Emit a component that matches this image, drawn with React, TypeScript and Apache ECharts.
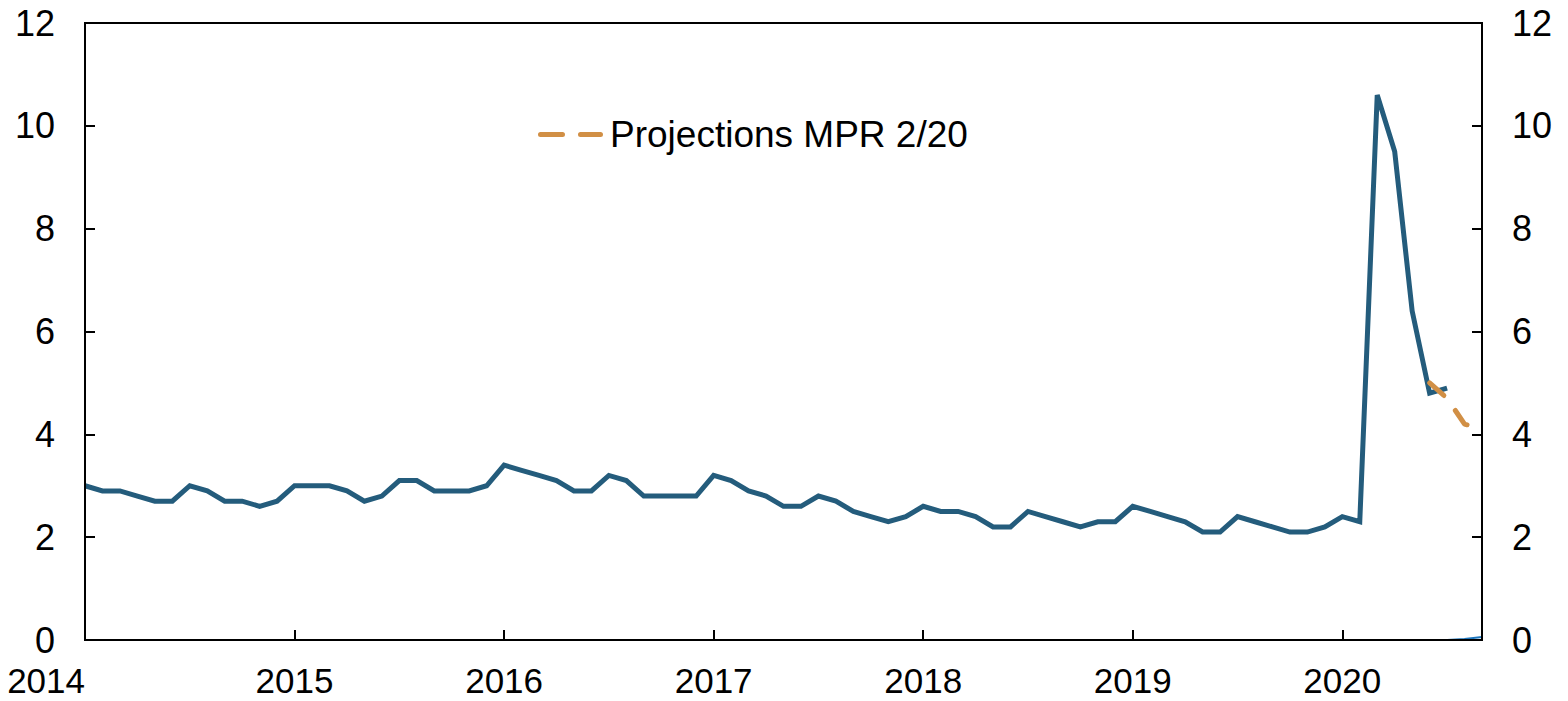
import React, { useEffect, useRef } from "react";
import * as echarts from "echarts";

// Monthly observations, Jan 2014 – Jul 2020
const actualStart = "2014-01";
const actualValues = [
  3.0, 2.9, 2.9, 2.8, 2.7, 2.7, 3.0, 2.9, 2.7, 2.7, 2.6, 2.7, // 2014
  3.0, 3.0, 3.0, 2.9, 2.7, 2.8, 3.1, 3.1, 2.9, 2.9, 2.9, 3.0, // 2015
  3.4, 3.3, 3.2, 3.1, 2.9, 2.9, 3.2, 3.1, 2.8, 2.8, 2.8, 2.8, // 2016
  3.2, 3.1, 2.9, 2.8, 2.6, 2.6, 2.8, 2.7, 2.5, 2.4, 2.3, 2.4, // 2017
  2.6, 2.5, 2.5, 2.4, 2.2, 2.2, 2.5, 2.4, 2.3, 2.2, 2.3, 2.3, // 2018
  2.6, 2.5, 2.4, 2.3, 2.1, 2.1, 2.4, 2.3, 2.2, 2.1, 2.1, 2.2, // 2019
  2.4, 2.3, 10.6, 9.5, 6.4, 4.8, 4.9, // 2020
];

// Projections MPR 2/20, Jun 2020 – Sep 2020
const projectionStart = "2020-06";
const projectionValues = [5.0, 4.7, 4.2, 4.1];

// Secondary series near zero, Mar 2020 – Sep 2020
const lowStart = "2020-03";
const lowValues = [0, 0, 0, 0, 0, 0.02, 0.06];

const axisStart = "2014-01";
const axisEnd = "2020-09";
const yearLabels = ["2014", "2015", "2016", "2017", "2018", "2019", "2020"];
const yTicks = [0, 2, 4, 6, 8, 10, 12];

const legendName = "Projections MPR 2/20";

function monthIndex(ym: string): number {
  const [y, m] = ym.split("-").map(Number);
  const [y0, m0] = axisStart.split("-").map(Number);
  return (y - y0) * 12 + (m - m0);
}

function toPairs(start: string, values: number[]): [number, number][] {
  const s = monthIndex(start);
  return values.map((v, i) => [s + i, v]);
}

// two rounded dashes for the legend key
const dashIcon =
  "path://M2.5,0 H24.5 A2.5,2.5 0 0 1 24.5,5 H2.5 A2.5,2.5 0 0 1 2.5,0 Z " +
  "M42.5,0 H62.5 A2.5,2.5 0 0 1 62.5,5 H42.5 A2.5,2.5 0 0 1 42.5,0 Z";

export default function App() {
  const ref = useRef<HTMLDivElement>(null);

  useEffect(() => {
    if (!ref.current) return;
    const chart = echarts.init(ref.current, undefined, { renderer: "svg" });
    const font = "'Liberation Sans', Arial, Helvetica, sans-serif";
    const yAxisCommon = {
      type: "value" as const,
      min: yTicks[0],
      max: yTicks[yTicks.length - 1],
      interval: 2,
      splitLine: { show: false },
      axisLine: { show: true, lineStyle: { color: "#000", width: 2 } },
      axisTick: { show: true, inside: true, length: 10, lineStyle: { color: "#000", width: 2 } },
      axisLabel: { fontSize: 36, color: "#000", fontFamily: font, margin: 30 },
      z: 3,
    };
    chart.setOption({
      animation: false,
      textStyle: { fontFamily: font },
      grid: {
        left: 85,
        right: 86,
        top: 23,
        bottom: 61,
        show: true,
        borderColor: "#000",
        borderWidth: 2,
        containLabel: false,
      },
      legend: {
        show: true,
        data: [{ name: legendName, icon: dashIcon }],
        left: 533,
        top: 111,
        itemWidth: 65,
        itemHeight: 5,
        itemGap: 10,
        itemStyle: { color: "#d18f45", borderWidth: 0 },
        textStyle: { fontSize: 37, color: "#000", fontFamily: font, padding: [0, 0, 0, 2] },
      },
      xAxis: {
        type: "value",
        min: 0,
        max: monthIndex(axisEnd),
        interval: 12,
        splitLine: { show: false },
        axisLine: { show: true, lineStyle: { color: "#000", width: 2 } },
        axisTick: { show: true, inside: true, length: 10, lineStyle: { color: "#000", width: 2 } },
        axisLabel: {
          fontSize: 35,
          lineHeight: 30,
          color: "#000",
          fontFamily: font,
          margin: 25,
          showMaxLabel: false,
          alignMinLabel: "right",
          formatter: (v: number) => (v % 12 === 0 ? yearLabels[v / 12] ?? "" : ""),
        },
        z: 3,
      },
      yAxis: [
        { ...yAxisCommon, position: "left" },
        { ...yAxisCommon, position: "right" },
      ],
      series: [
        {
          name: "Low",
          type: "line",
          data: toPairs(lowStart, lowValues),
          showSymbol: false,
          symbol: "none",
          lineStyle: { color: "#1c75bc", width: 2 },
          z: 1,
        },
        {
          name: "Actual",
          type: "line",
          data: toPairs(actualStart, actualValues),
          showSymbol: false,
          symbol: "none",
          lineStyle: { color: "#245c7c", width: 5, join: "miter" },
          z: 2,
        },
        {
          name: legendName,
          type: "line",
          data: toPairs(projectionStart, projectionValues),
          showSymbol: false,
          symbol: "none",
          lineStyle: { color: "#d18f45", width: 5, type: [19, 19], cap: "round" },
          itemStyle: { color: "#d18f45" },
          z: 2,
        },
      ],
    });
    return () => chart.dispose();
  }, []);

  return (
    <div
      ref={ref}
      style={{ position: "absolute", left: 0, top: 0, width: 1568, height: 701, background: "#fff" }}
    />
  );
}
